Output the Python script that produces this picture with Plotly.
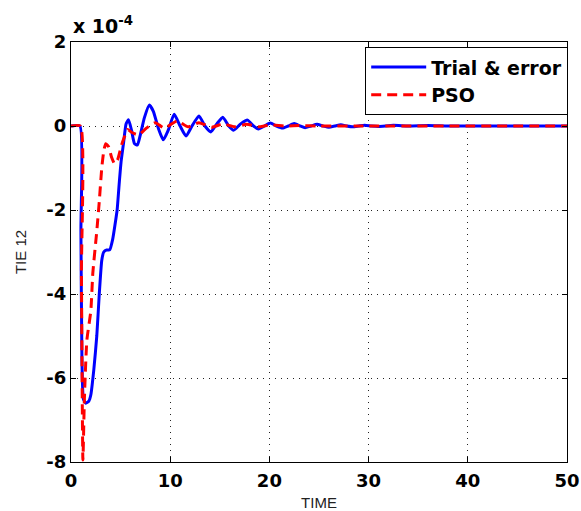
import plotly.graph_objects as go

# Time (s) and TIE 12 deviation (units of 1e-4)
t_trial = [0, 0.9, 1.0, 1.1, 1.25, 1.5, 1.8, 2.0, 2.3, 2.6, 2.85, 3.1, 3.3, 3.6, 3.9, 4.2,
           4.5, 4.65, 4.85, 5.05, 5.3, 5.55, 5.8, 6.1, 6.4, 6.7, 7.0, 7.4, 7.9, 8.3, 8.8,
           9.3, 9.8, 10.4, 11.0, 11.6, 12.2, 12.9, 13.5, 14.1, 14.7, 15.3, 15.9, 16.4,
           17.1, 17.8, 18.4, 18.9, 19.5, 20.1, 20.7, 21.3, 21.9, 22.5, 23.1, 23.6, 24.2,
           24.8, 25.4, 26.0, 26.6, 27.2, 27.8, 28.4, 29.0, 29.6, 30.3, 31.0, 32.5, 34.0,
           36.0, 38.0, 40.0, 45.0, 50.0]
v_trial = [0, 0, -2.5, -5.5, -6.5, -6.6, -6.55, -6.4, -5.8, -5.0, -4.0, -3.2, -3.0, -2.95,
           -2.95, -2.7, -2.25, -2.0, -1.4, -0.85, -0.4, 0.05, 0.15, -0.1, -0.42, -0.45,
           -0.2, 0.2, 0.5, 0.35, -0.05, -0.33, -0.1, 0.28, 0.0, -0.24, 0.0, 0.24, 0.0,
           -0.14, 0.05, 0.21, 0.0, -0.1, 0.05, 0.14, 0.0, -0.07, 0.0, 0.07, 0.0, -0.05,
           0.0, 0.06, 0.0, -0.04, 0.0, 0.04, 0.0, -0.03, 0.0, 0.03, 0.0, -0.02, 0.0,
           0.02, 0.0, -0.01, 0.015, 0.0, 0.01, 0.0, 0.0, 0.0, 0.0]

t_pso = [0, 0.95, 1.05, 1.2, 1.35, 1.6, 2.0, 2.2, 2.6, 2.85, 3.1, 3.3, 3.5, 3.8, 4.1,
         4.4, 4.7, 5.1, 5.4, 5.7, 6.1, 6.6, 7.0, 7.6, 8.5, 9.4, 10.7, 11.8, 12.9, 14.2,
         15.3, 16.5, 17.7, 19.0, 20.1, 21.5, 23.0, 25.0, 30.0, 40.0, 50.0]
v_pso = [0, 0, -3.5, -7.95, -6.5, -5.1, -4.4, -3.5, -2.5, -1.8, -1.0, -0.6, -0.42, -0.5,
         -0.75, -0.9, -0.8, -0.45, -0.25, -0.08, -0.15, -0.2, -0.18, -0.05, 0.08, -0.05,
         0.12, -0.02, 0.08, -0.03, 0.05, -0.02, 0.04, -0.02, 0.03, 0.0, 0.01, 0.0, 0.0,
         0.0, 0.0]

y_ticks = [-8, -6, -4, -2, 0, 2]
y_ticktext = ["-8", "-6", "-4", "-2", "0", "2"]
x_ticks = [0, 10, 20, 30, 40, 50]
x_ticktext = ["0", "10", "20", "30", "40", "50"]

BOLD = "DejaVu Sans, sans-serif"
PLAIN = "Arial, Liberation Sans, sans-serif"

fig = go.Figure()
fig.add_trace(go.Scatter(x=t_trial, y=v_trial, mode="lines", name="Trial & error",
                         line=dict(color="#0000ff", width=3, shape="spline", smoothing=0.5)))
fig.add_trace(go.Scatter(x=t_pso, y=v_pso, mode="lines", name="PSO",
                         line=dict(color="#ff0000", width=3, dash="10px,6px", shape="spline", smoothing=0.5)))

axis_common = dict(showline=True, linecolor="black", linewidth=1.3, mirror="ticks",
                   ticks="inside", ticklen=5, tickcolor="black", tickwidth=1,
                   showgrid=True, gridcolor="#222", gridwidth=1, griddash="1px,5px",
                   zeroline=False, automargin=False,
                   tickfont=dict(family=BOLD, size=18, color="black", weight="bold"))

fig.update_xaxes(range=[0, 50], tickvals=x_ticks, ticktext=x_ticktext, ticklabelstandoff=2,
                 title=dict(text="TIME", font=dict(family=PLAIN, size=15, color="#222"), standoff=8),
                 **axis_common)
fig.update_yaxes(range=[-8, 2], tickvals=y_ticks, ticktext=y_ticktext,
                 title=dict(text="TIE 12", font=dict(family=PLAIN, size=15, color="#222"), standoff=16),
                 **axis_common)

fig.add_annotation(text="x 10<sup>-4</sup>", xref="paper", yref="paper", x=0.0, y=1.0,
                   xanchor="left", yanchor="bottom", showarrow=False, yshift=3,
                   font=dict(family=BOLD, size=19, color="black", weight="bold"))

fig.update_layout(
    width=581, height=511,
    margin=dict(l=71, r=14, t=42, b=49),
    paper_bgcolor="white", plot_bgcolor="white",
    showlegend=True,
    legend=dict(x=1.002, y=0.988, xanchor="right", yanchor="top",
                bgcolor="white", bordercolor="black", borderwidth=1.2,
                font=dict(family=BOLD, size=19, color="black", weight="bold"),
                tracegroupgap=0, itemwidth=55),
)

fig.write_html("out.html")
